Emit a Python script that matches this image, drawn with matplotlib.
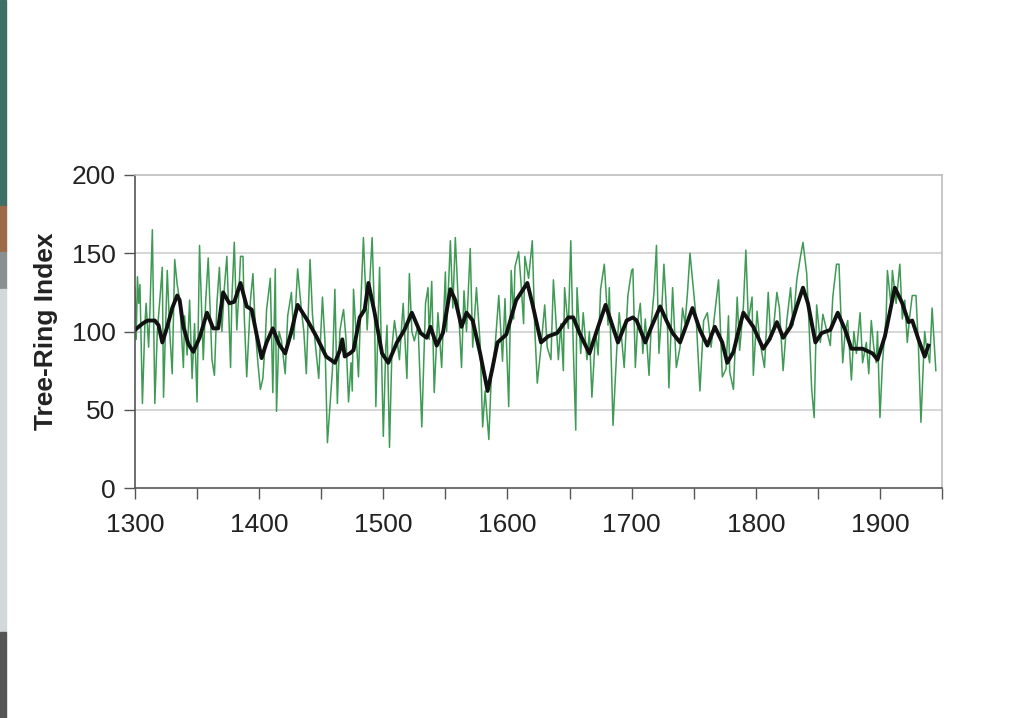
import matplotlib
matplotlib.use('Agg')
import matplotlib.pyplot as plt
from matplotlib.patches import Rectangle

plt.rcParams['font.family'] = ['Liberation Sans', 'DejaVu Sans']

# annual tree-ring index (turning points)
ring_years = [1300, 1301, 1302, 1303, 1304, 1306, 1308, 1309, 1311, 1312, 1314, 1316, 1318, 1320, 1322, 1323,
              1325, 1326, 1328, 1330, 1332, 1334, 1336, 1339, 1340, 1342, 1344, 1346, 1348, 1350, 1352, 1355,
              1357, 1359, 1362, 1364, 1366, 1368, 1370, 1372, 1374, 1377, 1378, 1380, 1382, 1384, 1385, 1387,
              1388, 1390, 1393, 1395, 1397, 1399, 1401, 1403, 1405, 1406, 1409, 1411, 1413, 1414, 1416, 1418,
              1421, 1423, 1426, 1428, 1431, 1434, 1436, 1438, 1441, 1443, 1445, 1448, 1451, 1453, 1455, 1457,
              1459, 1461, 1463, 1465, 1467, 1468, 1470, 1472, 1474, 1475, 1476, 1478, 1480, 1482, 1484, 1487,
              1489, 1491, 1493, 1494, 1497, 1500, 1502, 1503, 1505, 1507, 1509, 1511, 1513, 1516, 1519, 1521,
              1523, 1525, 1528, 1531, 1534, 1536, 1537, 1539, 1541, 1544, 1547, 1550, 1551, 1554, 1556, 1558,
              1561, 1563, 1565, 1567, 1570, 1572, 1575, 1578, 1580, 1582, 1585, 1587, 1590, 1593, 1596, 1598,
              1601, 1603, 1605, 1606, 1609, 1611, 1613, 1614, 1617, 1620, 1622, 1624, 1627, 1630, 1632, 1635,
              1637, 1641, 1643, 1645, 1646, 1649, 1651, 1653, 1655, 1656, 1659, 1661, 1664, 1666, 1668, 1671,
              1673, 1675, 1678, 1681, 1682, 1685, 1688, 1690, 1692, 1694, 1697, 1700, 1701, 1703, 1705, 1707,
              1709, 1711, 1714, 1716, 1718, 1720, 1722, 1724, 1726, 1729, 1730, 1732, 1733, 1736, 1739, 1741,
              1743, 1745, 1747, 1749, 1752, 1755, 1758, 1761, 1764, 1767, 1770, 1773, 1776, 1778, 1779, 1782,
              1785, 1787, 1790, 1792, 1794, 1797, 1798, 1801, 1803, 1805, 1807, 1810, 1812, 1814, 1817, 1819,
              1822, 1825, 1828, 1830, 1833, 1836, 1838, 1841, 1843, 1845, 1847, 1849, 1852, 1854, 1857, 1860,
              1862, 1865, 1867, 1870, 1872, 1874, 1877, 1879, 1881, 1884, 1886, 1889, 1891, 1893, 1895, 1897,
              1898, 1900, 1902, 1905, 1906, 1909, 1910, 1913, 1916, 1918, 1920, 1922, 1924, 1926, 1929, 1931,
              1933, 1936, 1937, 1940, 1942, 1945]
ring_index = [128, 95, 135, 118, 130, 54, 105, 118, 90, 112, 165, 54, 100, 120, 141, 58,
              112, 139, 100, 73, 146, 130, 120, 77, 110, 85, 120, 70, 105, 55, 155, 82,
              120, 147, 82, 72, 118, 141, 100, 128, 148, 77, 120, 157, 101, 130, 148, 148,
              110, 71, 120, 137, 100, 80, 63, 70, 95, 114, 134, 61, 140, 49, 100, 94,
              73, 110, 125, 95, 140, 114, 100, 73, 146, 110, 94, 70, 122, 94, 29, 52,
              75, 127, 54, 100, 110, 114, 95, 55, 80, 62, 127, 100, 71, 120, 160, 101,
              130, 160, 108, 52, 141, 33, 90, 104, 26, 90, 107, 95, 82, 118, 70, 137,
              100, 94, 104, 39, 118, 128, 95, 132, 61, 112, 77, 138, 100, 158, 115, 160,
              108, 77, 126, 100, 153, 90, 128, 92, 39, 62, 31, 72, 90, 123, 81, 121,
              52, 139, 108, 141, 151, 130, 105, 148, 134, 158, 102, 67, 90, 117, 90, 82,
              133, 82, 105, 75, 128, 102, 158, 90, 37, 128, 86, 112, 82, 100, 58, 100,
              85, 127, 143, 104, 128, 40, 88, 112, 95, 77, 123, 139, 140, 77, 107, 118,
              86, 108, 72, 107, 125, 155, 86, 110, 143, 100, 64, 107, 128, 77, 90, 115,
              105, 125, 150, 133, 108, 62, 107, 112, 90, 112, 133, 71, 76, 110, 74, 63,
              122, 88, 116, 152, 107, 122, 72, 113, 95, 86, 77, 125, 95, 100, 125, 115,
              75, 107, 128, 104, 133, 148, 157, 137, 102, 63, 45, 117, 93, 111, 101, 91,
              122, 143, 143, 80, 100, 107, 69, 100, 86, 112, 80, 93, 73, 107, 90, 80,
              100, 45, 80, 110, 139, 116, 139, 118, 143, 108, 120, 93, 110, 123, 123, 90,
              42, 100, 93, 80, 115, 75]

# smoothed curve
smooth_years = [1300, 1303, 1306, 1310, 1316, 1319, 1322, 1326, 1330, 1334, 1336, 1339, 1343, 1347, 1352, 1358,
                1363, 1367, 1371, 1376, 1380, 1385, 1390, 1394, 1398, 1402, 1406, 1411, 1416, 1421, 1426, 1431,
                1435, 1439, 1446, 1454, 1461, 1465, 1467, 1469, 1473, 1476, 1481, 1485, 1488, 1493, 1499, 1504,
                1511, 1517, 1523, 1530, 1535, 1538, 1543, 1548, 1554, 1558, 1563, 1567, 1572, 1578, 1584, 1588,
                1592, 1599, 1607, 1616, 1620, 1627, 1633, 1640, 1649, 1653, 1658, 1666, 1673, 1679, 1684, 1689,
                1696, 1701, 1704, 1711, 1716, 1723, 1728, 1733, 1739, 1744, 1749, 1755, 1761, 1767, 1773, 1777,
                1782, 1786, 1790, 1798, 1806, 1811, 1817, 1822, 1828, 1833, 1838, 1842, 1848, 1853, 1860, 1866,
                1872, 1877, 1886, 1894, 1898, 1904, 1912, 1918, 1923, 1926, 1931, 1936, 1939]
smooth_index = [101, 103, 105, 107, 107, 104, 93, 103, 115, 123, 120, 103, 92, 87, 96, 112,
                102, 102, 125, 118, 119, 131, 116, 114, 98, 83, 93, 102, 92, 86, 100, 117,
                112, 107, 97, 84, 80, 88, 95, 84, 86, 88, 109, 114, 131, 112, 86, 80,
                93, 101, 112, 99, 96, 103, 91, 99, 127, 120, 103, 112, 107, 86, 62, 77,
                93, 98, 120, 131, 118, 93, 97, 99, 109, 109, 99, 86, 103, 117, 105, 93,
                107, 109, 107, 93, 103, 116, 107, 99, 93, 104, 115, 101, 91, 103, 93, 80,
                87, 100, 112, 103, 89, 95, 106, 96, 103, 116, 128, 118, 93, 99, 101, 112,
                101, 89, 89, 86, 82, 97, 128, 118, 106, 107, 95, 84, 91]

fig = plt.figure(figsize=(10.11, 7.18), dpi=100)
ax = fig.add_axes([0.1335, 0.3203, 0.7983, 0.436])

ax.plot(ring_years, ring_index, color='#3f9a55', linewidth=1.1)
ax.plot(smooth_years, smooth_index, color='#111111', linewidth=2.8)

ax.set_xlim(1300, 1950)
ax.set_ylim(0, 200)
ax.set_yticks([0, 50, 100, 150, 200])
ax.set_xticks(range(1300, 1951, 50))
ax.set_xticklabels([str(y) if y % 100 == 0 else '' for y in range(1300, 1951, 50)])
ax.tick_params(axis='both', direction='out', length=8, width=1, color='#555555',
               labelsize=19, labelcolor='#222222', pad=6)
ax.tick_params(axis='x', pad=10)

for v in [50, 100, 150]:
    ax.axhline(v, color='#cfcfcf', linewidth=1.2, zorder=0)

ax.spines['left'].set_color('#555555')
ax.spines['bottom'].set_color('#555555')
ax.spines['top'].set_color('#bdbdbd')
ax.spines['right'].set_color('#bdbdbd')
for s in ax.spines.values():
    s.set_linewidth(1.2)

ax.set_ylabel('Tree-Ring Index', fontsize=19, fontweight='bold', color='#222222', labelpad=10)

# edge strip of the slide on the left
strip = [(0.713, 0.287, '#3f6e64'), (0.649, 0.064, '#9c6a48'), (0.597, 0.052, '#8a9090'),
         (0.12, 0.477, '#d3d8d8'), (0.0, 0.12, '#555555')]
for y0, h, c in strip:
    fig.patches.append(Rectangle((0, y0), 0.006, h, transform=fig.transFigure, color=c, zorder=0))

plt.savefig('out.png', dpi=100)
